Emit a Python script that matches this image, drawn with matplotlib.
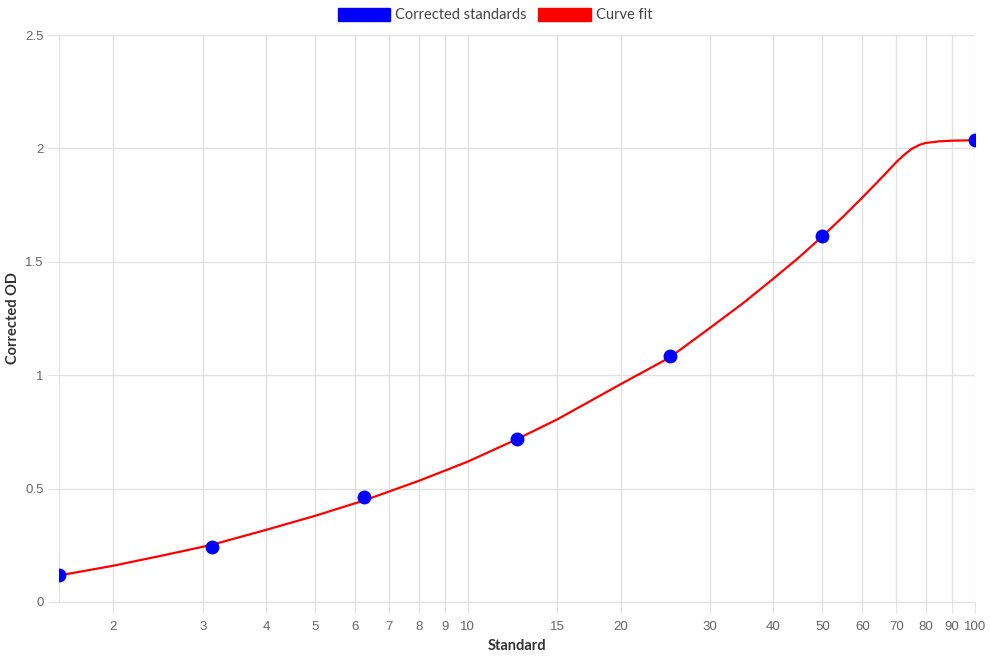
import matplotlib
matplotlib.use("Agg")
import matplotlib.pyplot as plt
from matplotlib.patches import Patch
from matplotlib.ticker import NullLocator, FixedLocator, FixedFormatter

plt.rcParams['font.family'] = 'Liberation Sans'

# standards (concentration) and corrected OD readings
std_x = [1.5625, 3.125, 6.25, 12.5, 25, 50, 100]
std_od = [0.119, 0.241, 0.462, 0.720, 1.085, 1.614, 2.036]

# curve fit
fit_x = [1.5625, 2, 2.5, 3.125, 4, 5, 6.25, 8, 10, 12.5, 15, 20, 25, 30,
         35, 40, 45, 50, 55, 60, 65, 70, 72, 75, 78, 80, 85, 90, 100]
fit_od = [0.117, 0.160, 0.205, 0.252, 0.318, 0.380, 0.448, 0.534, 0.619,
          0.718, 0.805, 0.960, 1.078, 1.208, 1.320, 1.425, 1.520, 1.612,
          1.700, 1.784, 1.864, 1.940, 1.966, 1.998, 2.017, 2.024, 2.031,
          2.034, 2.036]

xticks = [2, 3, 4, 5, 6, 7, 8, 9, 10, 15, 20, 30, 40, 50, 60, 70, 80, 90, 100]
yticks = [0, 0.5, 1, 1.5, 2, 2.5]
ytick_labels = ['0', '0.5', '1', '1.5', '2', '2.5']

grid_c = '#e1e1e1'
tick_c = '#666666'

fig = plt.figure(figsize=(9.9, 6.6), dpi=100)
ax = fig.add_axes([59/990, 1 - 602/660, (975-59)/990, (602-35)/660])

ax.plot(fit_x, fit_od, color='red', lw=1.6, zorder=3)
ax.plot(std_x, std_od, 'o', color='blue', ms=9, zorder=4)

ax.set_xscale('log')
ax.set_xlim(1.5625, 100)
ax.set_ylim(0, 2.5)
ax.xaxis.set_minor_locator(NullLocator())
ax.xaxis.set_major_locator(FixedLocator(xticks))
ax.xaxis.set_major_formatter(FixedFormatter([str(t) for t in xticks]))
ax.set_yticks(yticks)
ax.set_yticklabels(ytick_labels)

ax.grid(True, color=grid_c, lw=1)
ax.set_axisbelow(True)
for s in ['top', 'right']:
    ax.spines[s].set_visible(False)
for s in ['left', 'bottom']:
    ax.spines[s].set_color(grid_c)
ax.tick_params(length=8, color=grid_c, labelcolor=tick_c, labelsize=9.5)
ax.tick_params(axis='x', pad=6)
ax.tick_params(axis='y', pad=3)

ax.set_xlabel('Standard', fontsize=10.5, fontweight='bold', family='Lato',
              color='#333333')
ax.set_ylabel('Corrected OD', fontsize=10.5, fontweight='bold', family='Lato',
              color='#333333')
ax.xaxis.set_label_coords(0.5, -(646 - 602) / 567, transform=ax.transAxes)
ax.yaxis.set_label_coords((13 - 59) / 916, 0.5, transform=ax.transAxes)
ax.xaxis.label.set_va('center')
ax.yaxis.label.set_va('center')

handles = [Patch(facecolor='blue', edgecolor='blue', label='Corrected standards'),
           Patch(facecolor='red', edgecolor='red', label='Curve fit')]
fig.legend(handles=handles, loc='upper center', bbox_to_anchor=(0.5, 1.008),
           ncol=2, frameon=False, handlelength=3.6, handleheight=1.0,
           handletextpad=0.35, columnspacing=0.8,
           prop={'family': 'Lato', 'size': 10.5}, labelcolor='#444444')

plt.savefig('out.png', dpi=100)
